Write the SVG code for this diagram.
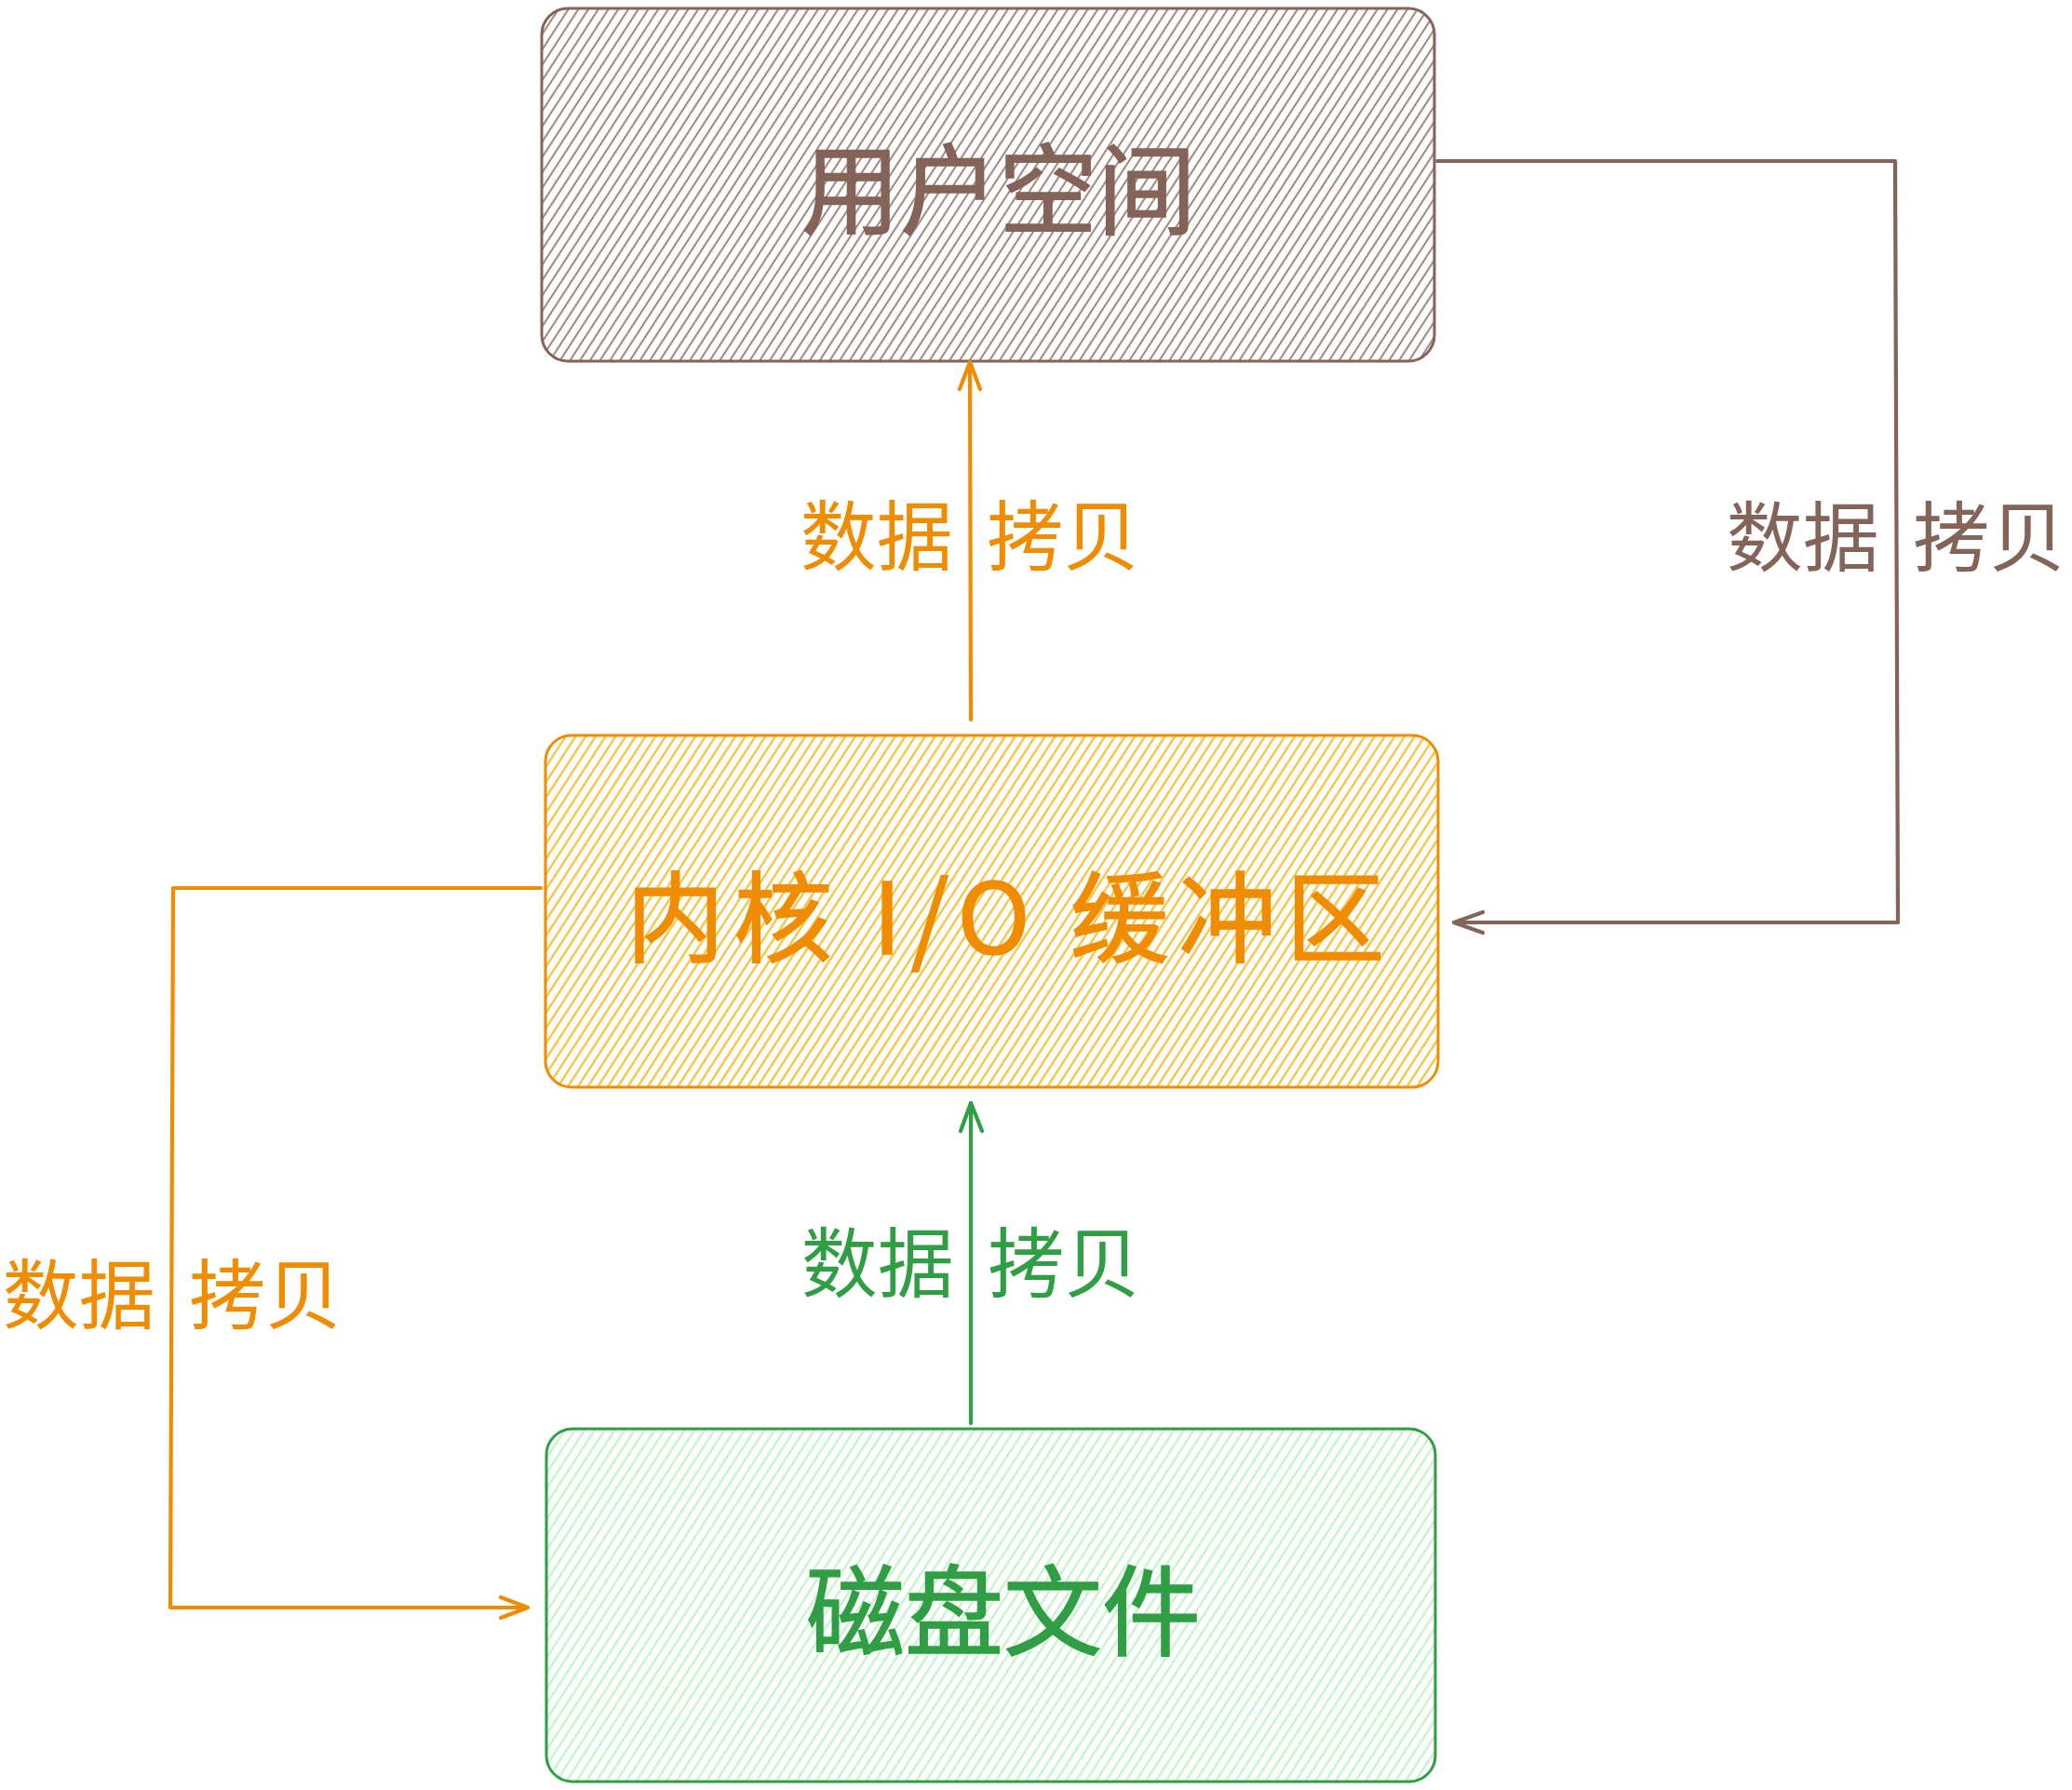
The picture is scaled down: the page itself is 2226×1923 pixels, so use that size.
<svg xmlns="http://www.w3.org/2000/svg" width="2226" height="1923" viewBox="0 0 2226 1923">
<style>
.node-text{font-family:"Noto Sans CJK SC","Noto Sans",sans-serif;font-size:106px;font-weight:400;text-anchor:middle}
.lbl{font-family:"Noto Sans CJK SC","Noto Sans",sans-serif;font-size:82px;text-anchor:middle}
.conn{fill:none;stroke-width:4.2;stroke-linecap:round;stroke-linejoin:round}
.brown{stroke:#846358}
.orange{stroke:#f08c00}
.green{stroke:#2f9e44}
</style>
<defs>
<pattern id="hBrown" width="9" height="20" patternUnits="userSpaceOnUse" patternTransform="rotate(33)">
<line x1="4.5" y1="0" x2="4.5" y2="20" stroke="#846358" stroke-width="1.6"/>
</pattern>
<pattern id="hOrange" width="9" height="20" patternUnits="userSpaceOnUse" patternTransform="rotate(33)">
<line x1="4.5" y1="0" x2="4.5" y2="20" stroke="#fab005" stroke-width="1.8"/>
</pattern>
<pattern id="hGreen" width="9" height="20" patternUnits="userSpaceOnUse" patternTransform="rotate(33)">
<line x1="4.5" y1="0" x2="4.5" y2="20" stroke="#b2f2bb" stroke-width="1.8"/>
</pattern>
</defs>
<rect width="2226" height="1923" fill="#ffffff"/>
<g id="user-space">
<rect x="582" y="9" width="959" height="379" rx="28" fill="url(#hBrown)" stroke="#846358" stroke-width="3"/>
<text class="node-text" x="1073" y="243" fill="#846358" stroke="#846358" stroke-width="1.5">用户空间</text>
</g>
<g id="kernel-buffer">
<rect x="586" y="790" width="959" height="378" rx="28" fill="url(#hOrange)" stroke="#f08c00" stroke-width="3"/>
<text class="node-text" x="1080" y="1025" fill="#f08c00" stroke="#f08c00" stroke-width="1.5" textLength="815" lengthAdjust="spacing">内核 I/O 缓冲区</text>
</g>
<g id="disk-file">
<rect x="587" y="1535" width="955" height="379" rx="28" fill="url(#hGreen)" stroke="#2f9e44" stroke-width="3"/>
<text class="node-text" x="1078" y="1770" fill="#2f9e44" stroke="#2f9e44" stroke-width="1.5">磁盘文件</text>
</g>
<g id="connectors">
<path class="conn orange" d="M1043 773 L1042 390"/>
<path class="conn orange" d="M1031 418 L1042 389 L1053 418"/>
<path class="conn brown" d="M1544 173 L2036 173 L2039 991 L1563 991"/>
<path class="conn brown" d="M1593 980 L1562 991 L1593 1002"/>
<path class="conn orange" d="M581 954 L186 954 L183 1727 L566 1727"/>
<path class="conn orange" d="M538 1716 L567 1727 L538 1738"/>
<path class="conn green" d="M1043 1529 L1043 1186"/>
<path class="conn green" d="M1032 1215 L1043 1185 L1055 1215"/>
<text class="lbl" x="1042" y="606" fill="#f08c00">数据<tspan dx="18"> </tspan>拷贝</text>
<text class="lbl" x="2037" y="607" fill="#846358">数据<tspan dx="18"> </tspan>拷贝</text>
<text class="lbl" x="185" y="1421" fill="#f08c00">数据<tspan dx="18"> </tspan>拷贝</text>
<text class="lbl" x="1043" y="1387" fill="#2f9e44">数据<tspan dx="18"> </tspan>拷贝</text>
</g>
</svg>
